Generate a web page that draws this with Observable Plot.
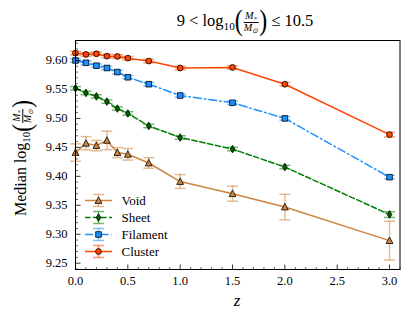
<!DOCTYPE html>
<html><head><meta charset="utf-8">
<script src="https://cdn.jsdelivr.net/npm/d3@7"></script>
<script src="https://cdn.jsdelivr.net/npm/@observablehq/plot@0.6"></script>
<style>
body{margin:0;background:#fff;}
#wrap{position:relative;width:405px;height:321px;font-family:"Liberation Serif",serif;color:#000;overflow:hidden;}
#wrap svg{position:absolute;left:0;top:0;}
#wrap svg text{font-family:"Liberation Serif",serif !important;}
.math{position:absolute;white-space:nowrap;line-height:1;font-family:"Liberation Serif",serif !important;}
.math sub{font-size:0.68em;vertical-align:-0.3em;line-height:0;}
.frac{display:inline-flex;flex-direction:column;vertical-align:middle;text-align:center;font-size:0.62em;font-style:italic;line-height:1.05;margin:0 1px;}
.frac span:first-child{border-bottom:0.8px solid #000;padding:0 1px;}
.paren{font-size:1.45em;display:inline-block;transform:scaleY(1.2);vertical-align:-0.12em;font-weight:300;line-height:1;}
#title{left:245px;top:22px;transform:translate(-50%,-50%);font-size:16.5px;}
#ylab{left:22px;top:158px;transform:translate(-50%,-50%) rotate(-90deg);font-size:16px;}
#xlab{left:237px;top:300px;transform:translate(-50%,-50%);font-size:17px;font-style:italic;}
</style></head><body>
<div id="wrap">
<div class="math" id="title">9 &lt; log<sub>10</sub><span class="paren">(</span><span class="frac"><span>M<sub>*</sub></span><span>M<sub>⊙</sub></span></span><span class="paren">)</span> ≤ 10.5</div>
<div class="math" id="ylab">Median log<sub>10</sub><span class="paren">(</span><span class="frac"><span>M<sub>*</sub></span><span>M<sub>⊙</sub></span></span><span class="paren">)</span></div>
<div class="math" id="xlab">z</div>
</div>
<script>
// ---- data ----
const z = [0, 0.1, 0.2, 0.3, 0.4, 0.5, 0.7, 1.0, 1.5, 2.0, 3.0];
const voidMed = [9.441, 9.457, 9.453, 9.462, 9.441, 9.438, 9.423, 9.391, 9.370, 9.347, 9.289];
const voidErr = [0.015, 0.0115, 0.009, 0.016, 0.0087, 0.010, 0.009, 0.012, 0.013, 0.022, 0.0335];
const sheetMed = [9.552, 9.544, 9.538, 9.529, 9.517, 9.5085, 9.487, 9.467, 9.447, 9.416, 9.334];
const sheetErr = [0.003, 0.003, 0.003, 0.003, 0.003, 0.003, 0.003, 0.003, 0.003, 0.003, 0.005];
const filMed = [9.600, 9.596, 9.591, 9.587, 9.580, 9.571, 9.559, 9.5395, 9.527, 9.500, 9.3985];
const filErr = [0.003, 0.003, 0.003, 0.003, 0.003, 0.003, 0.003, 0.003, 0.003, 0.003, 0.003];
const cluMed = [9.6127, 9.6104, 9.6116, 9.6075, 9.607, 9.604, 9.599, 9.587, 9.588, 9.559, 9.472];
const cluErr = [0.003, 0.003, 0.003, 0.003, 0.003, 0.003, 0.003, 0.003, 0.003, 0.003, 0.004];
const seriesNames = ["Void", "Sheet", "Filament", "Cluster"];
const xTickLabels = [0, 0.5, 1.0, 1.5, 2.0, 2.5, 3.0];
const yTickLabels = [9.25, 9.30, 9.35, 9.40, 9.45, 9.50, 9.55, 9.60];

// ---- styles ----
const lineColors = ["#cd853f", "#008000", "#1e90ff", "#ff4500"];
const markerFills = ["#cd853f", "#006400", "#1e90ff", "#ff4500"];
const dashArr = [null, "5.5,2.5", "8,3,1.5,3", null];

const meds = [voidMed, sheetMed, filMed, cluMed];
const errs = [voidErr, sheetErr, filErr, cluErr];
const rows = seriesNames.flatMap((s, i) => z.map((zz, j) => ({s, i, z: zz, m: meds[i][j], e: errs[i][j]})));

// symbols
const sym = {
  circle: {draw(c){ c.moveTo(2.9,0); c.arc(0,0,2.9,0,2*Math.PI); c.closePath(); }},
  square: {draw(c){ c.rect(-2.8,-2.8,5.6,5.6); }},
  triangle: {draw(c){ c.moveTo(0,-3.6); c.lineTo(3.4,2.9); c.lineTo(-3.4,2.9); c.closePath(); }},
  thin: {draw(c){ c.moveTo(0,-3.8); c.lineTo(2.3,0); c.lineTo(0,3.8); c.lineTo(-2.3,0); c.closePath(); }}
};
const markerSyms = [sym.triangle, sym.thin, sym.square, sym.circle];
const capSym = {draw(c){ c.moveTo(-5.5,0); c.lineTo(5.5,0); }};
const yTickMaj = {draw(c){ c.moveTo(0,0); c.lineTo(5,0); }};
const yTickMin = {draw(c){ c.moveTo(0,0); c.lineTo(2.5,0); }};
const xTickMaj = {draw(c){ c.moveTo(0,0); c.lineTo(0,-5); }};
const xTickMin = {draw(c){ c.moveTo(0,0); c.lineTo(0,-2.5); }};

const yMinor = d3.range(924, 964).map(v => v / 100).filter(v => !yTickLabels.some(t => Math.abs(t - v) < 1e-6));
const xMinor = d3.range(1, 32).map(v => v / 10).filter(v => !xTickLabels.some(t => Math.abs(t - v) < 1e-6));

const marks = [];
seriesNames.forEach((s, i) => {
  const d = rows.filter(r => r.i === i);
  const eColor = lineColors[i];
  marks.push(Plot.ruleX(d, {x: "z", y1: r => r.m - r.e, y2: r => r.m + r.e, stroke: eColor, strokeOpacity: 0.55, strokeWidth: 1.5}));
  marks.push(Plot.dot(d, {x: "z", y: r => r.m - r.e, symbol: capSym, fill: "none", stroke: eColor, strokeOpacity: 0.55, strokeWidth: 1.5}));
  marks.push(Plot.dot(d, {x: "z", y: r => r.m + r.e, symbol: capSym, fill: "none", stroke: eColor, strokeOpacity: 0.55, strokeWidth: 1.5}));
  marks.push(Plot.line(d, {x: "z", y: "m", stroke: lineColors[i], strokeWidth: 1.5, strokeDasharray: dashArr[i]}));
  marks.push(Plot.dot(d, {x: "z", y: "m", symbol: markerSyms[i], fill: markerFills[i], stroke: "black", strokeWidth: 0.8}));
});

const chart = Plot.plot({
  width: 405, height: 321,
  marginLeft: 75, marginRight: 5.5, marginTop: 40, marginBottom: 52,
  style: {fontFamily: "'Liberation Serif', serif", fontSize: "12px", background: "transparent", color: "black"},
  x: {domain: [0, 3.1]},
  y: {domain: [9.2391, 9.6345]},
  marks: [
    ...marks,
    Plot.dot(yTickLabels, {y: d => d, frameAnchor: "left", symbol: yTickMaj, fill: "none", stroke: "black", strokeWidth: 0.8}),
    Plot.dot(yMinor, {y: d => d, frameAnchor: "left", symbol: yTickMin, fill: "none", stroke: "black", strokeWidth: 0.6}),
    Plot.dot(xTickLabels, {x: d => d, frameAnchor: "bottom", symbol: xTickMaj, fill: "none", stroke: "black", strokeWidth: 0.8}),
    Plot.dot(xMinor, {x: d => d, frameAnchor: "bottom", symbol: xTickMin, fill: "none", stroke: "black", strokeWidth: 0.6}),
    Plot.axisY(yTickLabels, {tickSize: 0, tickPadding: 8, tickFormat: d3.format(".2f"), label: null, fontSize: 12.5}),
    Plot.axisX(xTickLabels, {tickSize: 0, tickPadding: 7, tickFormat: d3.format(".1f"), label: null, fontSize: 12.5}),
    Plot.frame({stroke: "black", strokeWidth: 1})
  ]
});
const wrap = document.getElementById("wrap");
wrap.insertBefore(chart, wrap.firstChild);

// ---- legend ----
const leg = d3.select(wrap).append("svg").attr("width", 405).attr("height", 321).style("pointer-events", "none");
seriesNames.forEach((s, i) => {
  const y = 200.5 + i * 17;
  const g = leg.append("g");
  g.append("line").attr("x1", 85).attr("x2", 112).attr("y1", y).attr("y2", y)
    .attr("stroke", lineColors[i]).attr("stroke-width", 1.5).attr("stroke-dasharray", dashArr[i]);
  const ec = lineColors[i];
  g.append("line").attr("x1", 98.5).attr("x2", 98.5).attr("y1", y - 6).attr("y2", y + 6).attr("stroke", ec).attr("stroke-opacity", 0.55).attr("stroke-width", 1.5);
  g.append("line").attr("x1", 93).attr("x2", 104).attr("y1", y - 6).attr("y2", y - 6).attr("stroke", ec).attr("stroke-opacity", 0.55).attr("stroke-width", 1.5);
  g.append("line").attr("x1", 93).attr("x2", 104).attr("y1", y + 6).attr("y2", y + 6).attr("stroke", ec).attr("stroke-opacity", 0.55).attr("stroke-width", 1.5);
  const p = d3.path(); markerSyms[i].draw(p);
  g.append("path").attr("d", p.toString()).attr("transform", `translate(98.5,${y})`).attr("fill", markerFills[i]).attr("stroke", "black").attr("stroke-width", 0.8);
  g.append("text").attr("x", 121.5).attr("y", y).attr("dy", "0.35em").attr("font-size", 13).text(s);
});
</script>
</body></html>
